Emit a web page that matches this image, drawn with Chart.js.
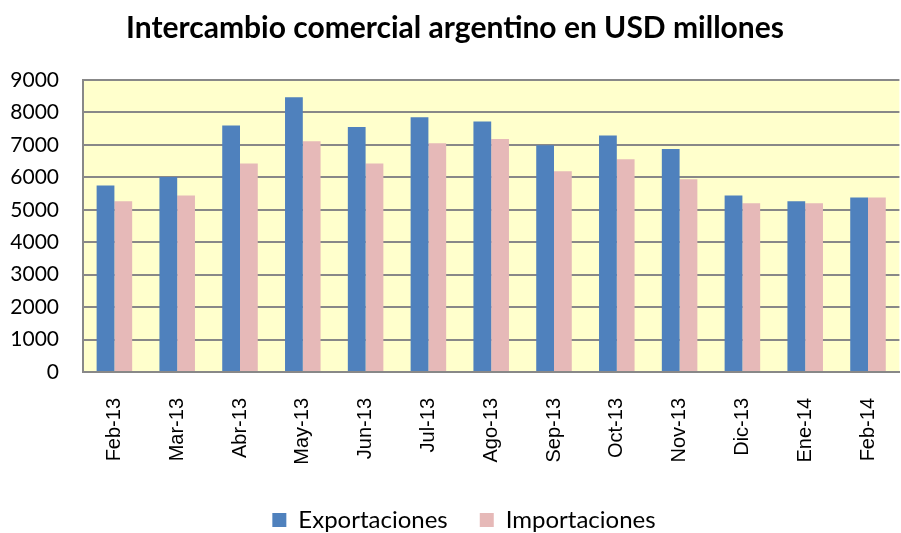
<!DOCTYPE html>
<html>
<head>
<meta charset="utf-8">
<script src="https://cdn.jsdelivr.net/npm/chart.js@4.4.1/dist/chart.umd.min.js"></script>
<style>
  html, body { margin: 0; padding: 0; background: #ffffff; overflow: hidden; }
  #wrap { position: relative; width: 910px; height: 542px; }
</style>
</head>
<body>
<div id="wrap"><canvas id="c"></canvas></div>
<script>
const categories = ["Feb-13","Mar-13","Abr-13","May-13","Jun-13","Jul-13","Ago-13","Sep-13","Oct-13","Nov-13","Dic-13","Ene-14","Feb-14"];
const exportaciones = [5750, 6010, 7600, 8470, 7550, 7850, 7720, 6990, 7290, 6870, 5440, 5260, 5380];
const importaciones = [5260, 5440, 6430, 7110, 6430, 7050, 7180, 6190, 6560, 5940, 5200, 5200, 5380];
const yTicks = [0, 1000, 2000, 3000, 4000, 5000, 6000, 7000, 8000, 9000];
const titleText = "Intercambio comercial argentino en USD millones";

const plotBg = {
  id: 'plotBg',
  beforeDraw(chart) {
    const {ctx, chartArea: a} = chart;
    ctx.save();
    ctx.fillStyle = '#FFFFCC';
    ctx.fillRect(a.left, a.top, a.right - a.left, a.bottom - a.top);
    ctx.restore();
  }
};

const legendShift = {
  id: 'legendShift',
  afterLayout(chart) {
    if (chart.legend) {
      chart.legend.left += 9;
      chart.legend.right += 9;
    }
  }
};

new Chart(document.getElementById('c'), {
  type: 'bar',
  data: {
    labels: categories,
    datasets: [
      { label: 'Exportaciones', data: exportaciones, backgroundColor: '#4F81BD', borderWidth: 0 },
      { label: 'Importaciones', data: importaciones, backgroundColor: '#E6B9B8', borderWidth: 0 }
    ]
  },
  options: {
    responsive: true,
    maintainAspectRatio: false,
    animation: false,
    devicePixelRatio: 1,
    layout: { padding: { left: 0, right: 0, top: 0, bottom: 0 } },
    datasets: { bar: { categoryPercentage: 0.566, barPercentage: 1.0 } },
    plugins: {
      title: {
        display: true,
        text: titleText,
        color: '#000000',
        font: { family: 'Lato', size: 30, weight: 'bold' },
        padding: { top: 10, bottom: 34 }
      },
      legend: {
        position: 'bottom',
        labels: {
          color: '#000000',
          font: { family: 'Lato', size: 24 },
          boxWidth: 14,
          boxHeight: 14,
          padding: 32
        }
      },
      tooltip: { enabled: false }
    },
    scales: {
      x: {
        grid: { display: false },
        border: { display: true, color: '#888888', width: 2 },
        ticks: {
          color: '#000000',
          font: { family: 'Liberation Sans', size: 20 },
          minRotation: 90,
          maxRotation: 90,
          padding: 18
        },
        afterFit(scale) { scale.height = 104; }
      },
      y: {
        min: 0,
        max: 9000,
        afterBuildTicks(scale) { scale.ticks = yTicks.map(v => ({ value: v })); },
        grid: { color: '#888888', lineWidth: 2, drawTicks: false },
        border: { display: true, color: '#888888', width: 2 },
        ticks: {
          color: '#000000',
          font: { family: 'Lato', size: 21 },
          padding: 24,
          callback: (v) => String(v)
        },
        afterFit(scale) { scale.width = 83; }
      }
    }
  },
  plugins: [plotBg, legendShift]
});
</script>
</body>
</html>
